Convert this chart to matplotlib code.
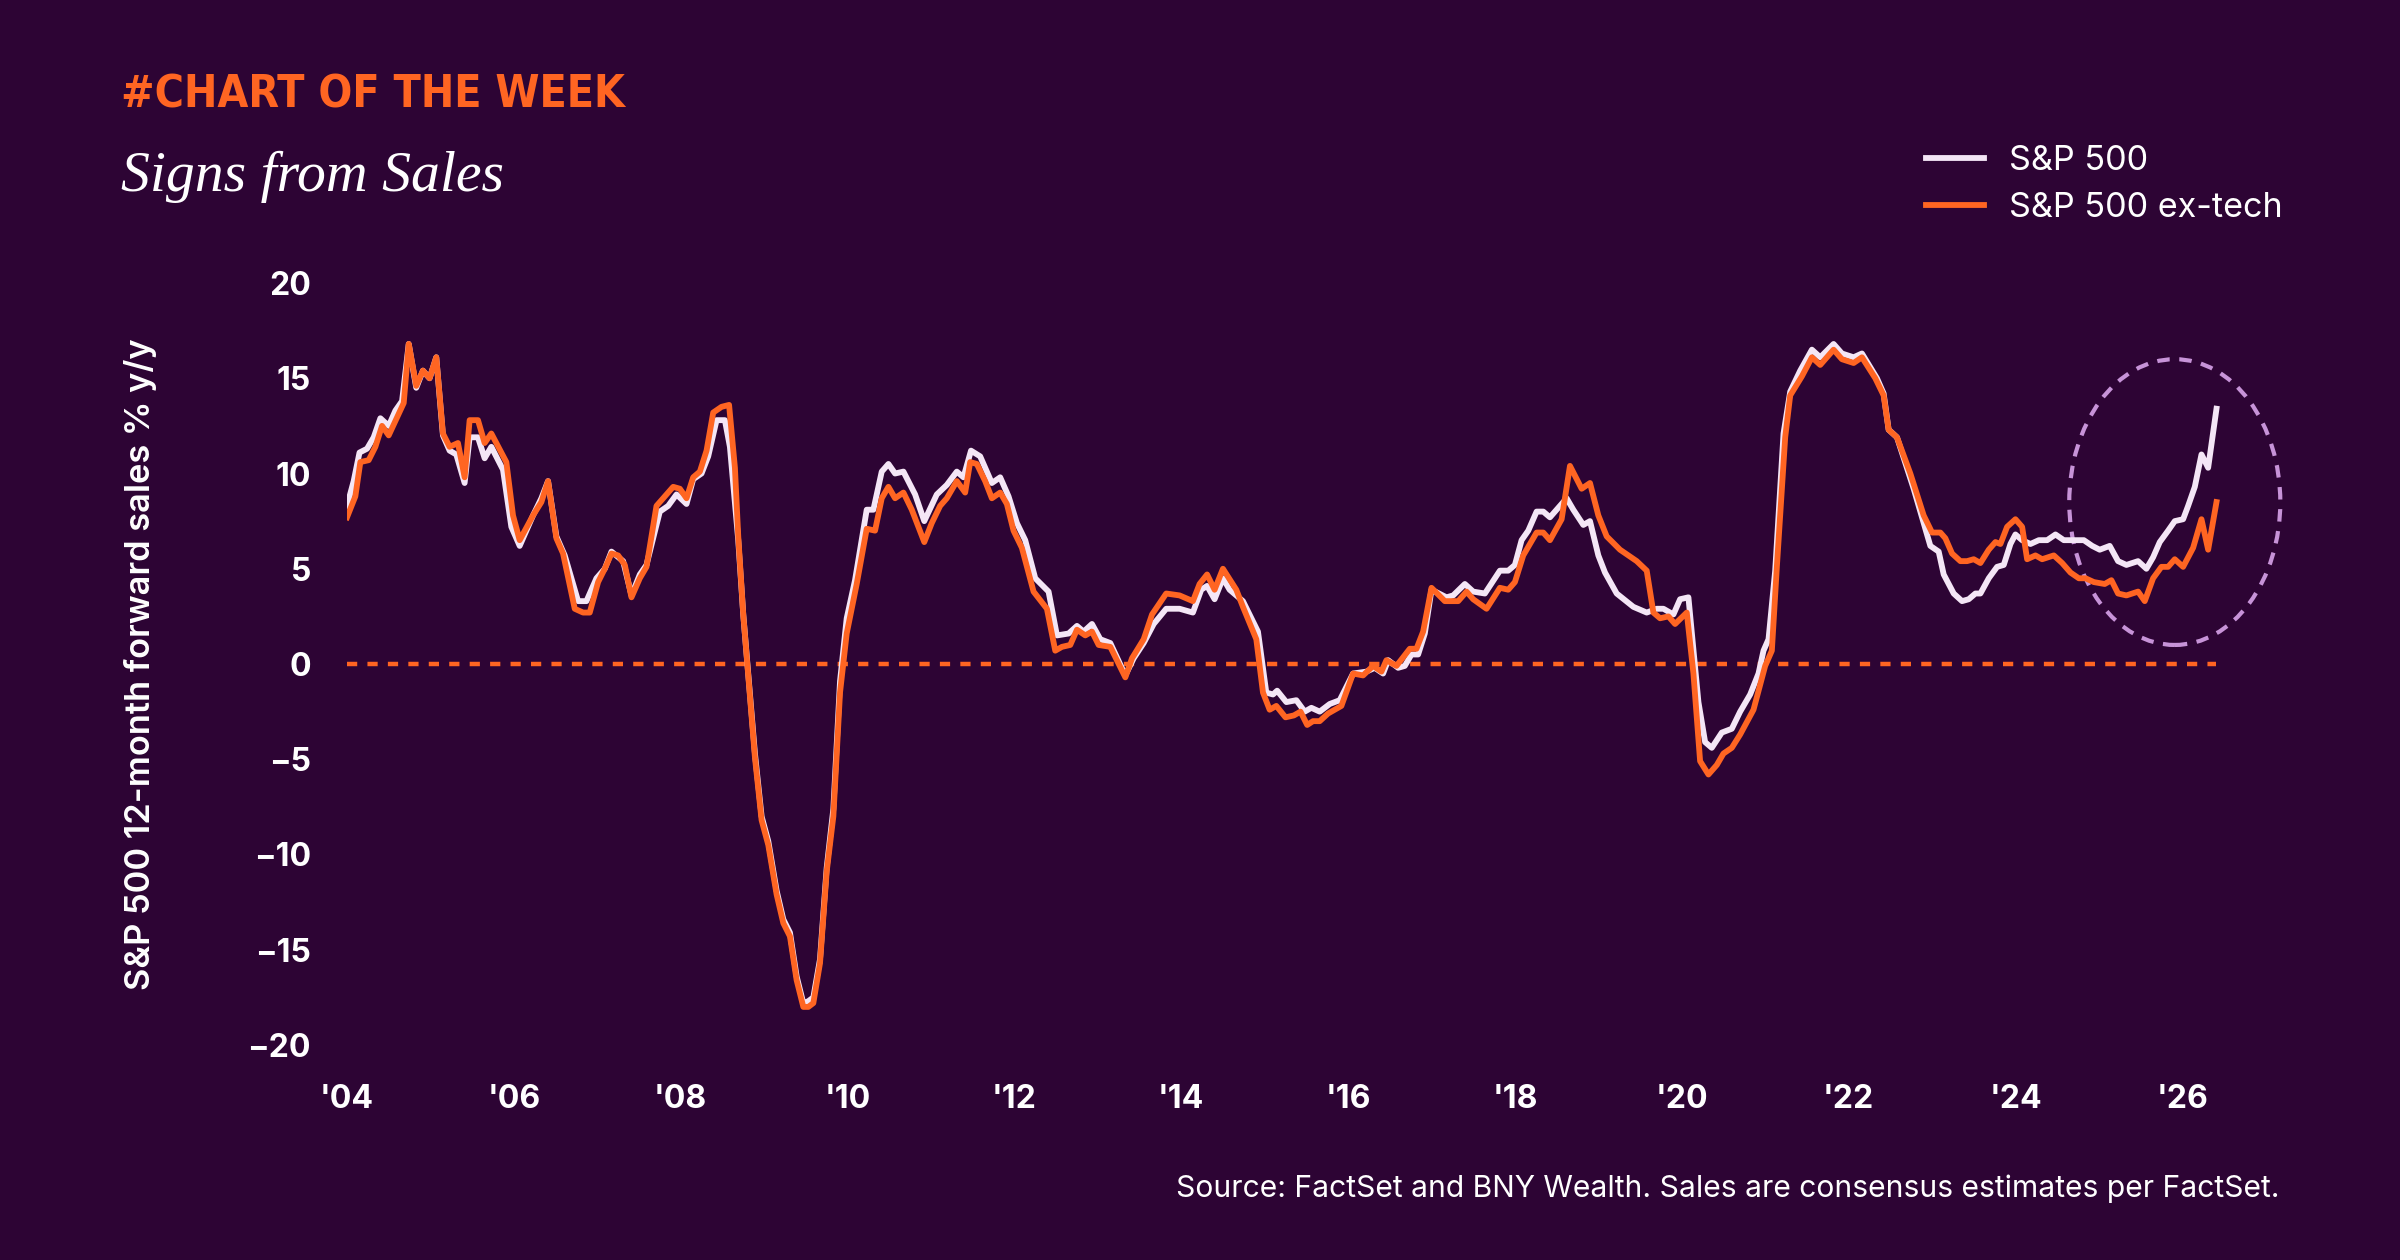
import numpy as np
import matplotlib
matplotlib.use('Agg')
import matplotlib.pyplot as plt
from matplotlib import font_manager
from matplotlib.font_manager import FontProperties
from matplotlib.patches import Ellipse

# S&P 500 12-month forward sales growth, % y/y
sp_years = [2004.00, 2004.08, 2004.15, 2004.24, 2004.32, 2004.40, 2004.50, 2004.58, 2004.66, 2004.74,
            2004.83, 2004.91, 2004.99, 2005.07, 2005.15, 2005.23, 2005.31, 2005.41, 2005.47, 2005.57,
            2005.65, 2005.73, 2005.87, 2005.97, 2006.07, 2006.23, 2006.33, 2006.41, 2006.51, 2006.61,
            2006.77, 2006.87, 2006.99, 2007.09, 2007.17, 2007.31, 2007.41, 2007.51, 2007.59, 2007.75,
            2007.85, 2007.95, 2008.07, 2008.15, 2008.25, 2008.33, 2008.43, 2008.53, 2008.59, 2008.69,
            2008.75, 2008.89, 2008.97, 2009.05, 2009.15, 2009.23, 2009.31, 2009.39, 2009.47, 2009.53,
            2009.59, 2009.67, 2009.75, 2009.83, 2009.91, 2009.99, 2010.09, 2010.23, 2010.31, 2010.41,
            2010.49, 2010.57, 2010.67, 2010.81, 2010.92, 2011.07, 2011.19, 2011.31, 2011.39, 2011.48,
            2011.59, 2011.73, 2011.83, 2011.93, 2012.03, 2012.13, 2012.25, 2012.41, 2012.51, 2012.65,
            2012.75, 2012.83, 2012.93, 2013.03, 2013.15, 2013.33, 2013.43, 2013.55, 2013.67, 2013.82,
            2013.98, 2014.14, 2014.24, 2014.31, 2014.40, 2014.50, 2014.58, 2014.74, 2014.92, 2015.02,
            2015.10, 2015.15, 2015.26, 2015.38, 2015.48, 2015.56, 2015.66, 2015.78, 2015.90, 2016.06,
            2016.22, 2016.32, 2016.42, 2016.48, 2016.60, 2016.68, 2016.76, 2016.84, 2016.92, 2017.00,
            2017.18, 2017.26, 2017.40, 2017.50, 2017.64, 2017.82, 2017.92, 2018.00, 2018.08, 2018.16,
            2018.26, 2018.34, 2018.42, 2018.50, 2018.62, 2018.70, 2018.82, 2018.90, 2019.00, 2019.08,
            2019.22, 2019.42, 2019.58, 2019.70, 2019.78, 2019.90, 2019.98, 2020.08, 2020.20, 2020.28,
            2020.36, 2020.48, 2020.60, 2020.70, 2020.82, 2020.92, 2020.98, 2021.04, 2021.12, 2021.22,
            2021.30, 2021.42, 2021.56, 2021.66, 2021.82, 2021.92, 2022.06, 2022.16, 2022.34, 2022.42,
            2022.48, 2022.58, 2022.78, 2022.98, 2023.08, 2023.14, 2023.26, 2023.36, 2023.44, 2023.52,
            2023.58, 2023.68, 2023.78, 2023.86, 2023.94, 2024.00, 2024.08, 2024.18, 2024.28, 2024.38,
            2024.48, 2024.58, 2024.68, 2024.82, 2024.92, 2025.01, 2025.13, 2025.23, 2025.33, 2025.47,
            2025.57, 2025.65, 2025.73, 2025.83, 2025.91, 2026.01, 2026.07, 2026.15, 2026.23, 2026.31,
            2026.41]
sp_vals = [8.3, 9.6, 11.1, 11.3, 11.9, 12.9, 12.5, 13.3, 13.8, 16.8,
           14.5, 15.4, 15.0, 16.1, 12.0, 11.2, 11.0, 9.5, 11.9, 11.9,
           10.8, 11.4, 10.2, 7.2, 6.2, 7.8, 8.7, 9.6, 6.7, 5.7,
           3.3, 3.3, 4.5, 5.0, 5.9, 5.4, 3.6, 4.7, 5.2, 8.0,
           8.3, 8.9, 8.4, 9.7, 10.0, 10.9, 12.8, 12.8, 11.4, 6.5,
           2.6, -4.7, -8.0, -9.3, -11.9, -13.4, -14.1, -16.4, -17.8, -17.7,
           -17.5, -15.5, -10.7, -7.6, -0.9, 2.4, 4.4, 8.1, 8.1, 10.1,
           10.5, 10.0, 10.1, 8.9, 7.5, 8.9, 9.4, 10.1, 9.8, 11.2,
           10.9, 9.5, 9.8, 8.8, 7.4, 6.5, 4.5, 3.8, 1.5, 1.6,
           2.0, 1.7, 2.1, 1.3, 1.1, -0.6, 0.3, 1.1, 2.1, 2.9,
           2.9, 2.7, 3.9, 4.1, 3.4, 4.5, 3.9, 3.3, 1.7, -1.5,
           -1.6, -1.4, -2.0, -1.9, -2.5, -2.3, -2.5, -2.1, -1.9, -0.5,
           -0.4, -0.2, -0.5, 0.2, -0.2, -0.1, 0.5, 0.5, 1.6, 3.9,
           3.5, 3.6, 4.2, 3.8, 3.7, 4.9, 4.9, 5.2, 6.5, 7.0,
           8.0, 8.0, 7.7, 8.1, 8.7, 8.1, 7.3, 7.5, 5.7, 4.8,
           3.7, 3.0, 2.7, 2.9, 2.9, 2.6, 3.4, 3.5, -2.0, -4.1,
           -4.4, -3.6, -3.4, -2.5, -1.6, -0.5, 0.7, 1.3, 4.9, 12.1,
           14.3, 15.4, 16.5, 16.1, 16.8, 16.3, 16.1, 16.3, 15.0, 14.2,
           12.3, 11.9, 9.2, 6.2, 5.9, 4.7, 3.7, 3.3, 3.4, 3.7,
           3.7, 4.5, 5.1, 5.2, 6.3, 6.8, 6.5, 6.3, 6.5, 6.5,
           6.8, 6.5, 6.5, 6.5, 6.2, 6.0, 6.2, 5.4, 5.2, 5.4,
           5.0, 5.6, 6.4, 7.0, 7.5, 7.6, 8.3, 9.3, 11.0, 10.3,
           13.4]

# S&P 500 ex-tech
ex_years = [2004.00, 2004.10, 2004.16, 2004.26, 2004.34, 2004.42, 2004.50, 2004.68, 2004.74, 2004.83,
            2004.91, 2004.99, 2005.07, 2005.15, 2005.23, 2005.33, 2005.41, 2005.47, 2005.57, 2005.65,
            2005.73, 2005.91, 2005.99, 2006.07, 2006.23, 2006.33, 2006.41, 2006.51, 2006.59, 2006.73,
            2006.83, 2006.91, 2007.01, 2007.09, 2007.17, 2007.25, 2007.33, 2007.41, 2007.51, 2007.59,
            2007.71, 2007.79, 2007.91, 2007.99, 2008.07, 2008.15, 2008.23, 2008.31, 2008.39, 2008.49,
            2008.58, 2008.65, 2008.69, 2008.75, 2008.89, 2008.97, 2009.05, 2009.15, 2009.23, 2009.31,
            2009.39, 2009.47, 2009.53, 2009.59, 2009.67, 2009.75, 2009.83, 2009.91, 2009.99, 2010.11,
            2010.23, 2010.33, 2010.41, 2010.49, 2010.57, 2010.67, 2010.77, 2010.85, 2010.92, 2011.01,
            2011.11, 2011.19, 2011.31, 2011.41, 2011.47, 2011.55, 2011.65, 2011.73, 2011.83, 2011.91,
            2011.99, 2012.09, 2012.23, 2012.39, 2012.49, 2012.57, 2012.67, 2012.75, 2012.85, 2012.93,
            2013.01, 2013.15, 2013.33, 2013.41, 2013.55, 2013.65, 2013.82, 2013.98, 2014.14, 2014.22,
            2014.31, 2014.40, 2014.50, 2014.66, 2014.74, 2014.90, 2014.98, 2015.06, 2015.14, 2015.25,
            2015.35, 2015.43, 2015.51, 2015.58, 2015.66, 2015.76, 2015.92, 2016.06, 2016.18, 2016.30,
            2016.40, 2016.46, 2016.58, 2016.74, 2016.82, 2016.90, 2017.00, 2017.16, 2017.32, 2017.42,
            2017.50, 2017.66, 2017.82, 2017.92, 2018.00, 2018.10, 2018.26, 2018.34, 2018.42, 2018.56,
            2018.66, 2018.80, 2018.90, 2019.00, 2019.10, 2019.26, 2019.46, 2019.58, 2019.66, 2019.74,
            2019.84, 2019.92, 2020.06, 2020.14, 2020.22, 2020.32, 2020.42, 2020.50, 2020.60, 2020.70,
            2020.86, 2021.00, 2021.08, 2021.14, 2021.24, 2021.30, 2021.44, 2021.56, 2021.66, 2021.82,
            2021.92, 2022.06, 2022.16, 2022.32, 2022.42, 2022.48, 2022.58, 2022.74, 2022.90, 2023.00,
            2023.10, 2023.16, 2023.24, 2023.34, 2023.42, 2023.50, 2023.58, 2023.68, 2023.76, 2023.82,
            2023.90, 2024.00, 2024.08, 2024.14, 2024.24, 2024.32, 2024.46, 2024.56, 2024.66, 2024.76,
            2024.84, 2024.94, 2025.07, 2025.15, 2025.23, 2025.33, 2025.47, 2025.55, 2025.65, 2025.75,
            2025.83, 2025.91, 2026.01, 2026.13, 2026.23, 2026.31, 2026.41]
ex_vals = [7.7, 8.8, 10.6, 10.7, 11.4, 12.5, 12.0, 13.7, 16.8, 14.6,
           15.4, 15.0, 16.1, 12.1, 11.4, 11.6, 9.8, 12.8, 12.8, 11.6,
           12.1, 10.6, 7.8, 6.5, 7.8, 8.5, 9.6, 6.6, 5.8, 2.9,
           2.7, 2.7, 4.3, 5.0, 5.8, 5.7, 5.2, 3.5, 4.5, 5.1,
           8.3, 8.7, 9.3, 9.2, 8.7, 9.8, 10.1, 11.2, 13.2, 13.5,
           13.6, 10.3, 6.7, 2.6, -4.9, -8.2, -9.5, -12.1, -13.6, -14.3,
           -16.6, -18.0, -18.0, -17.8, -15.7, -10.9, -8.0, -1.5, 1.6, 4.2,
           7.1, 7.0, 8.7, 9.3, 8.7, 9.0, 8.1, 7.2, 6.4, 7.4,
           8.3, 8.7, 9.6, 9.0, 10.6, 10.5, 9.6, 8.7, 9.0, 8.4,
           7.0, 6.1, 3.8, 2.9, 0.7, 0.9, 1.0, 1.8, 1.5, 1.7,
           1.0, 0.9, -0.7, 0.3, 1.3, 2.6, 3.7, 3.6, 3.3, 4.2,
           4.7, 3.9, 5.0, 3.9, 3.0, 1.3, -1.5, -2.4, -2.2, -2.8,
           -2.7, -2.5, -3.2, -3.0, -3.0, -2.6, -2.2, -0.5, -0.6, -0.1,
           -0.4, 0.2, -0.1, 0.8, 0.8, 1.7, 4.0, 3.3, 3.3, 3.8,
           3.4, 2.9, 4.0, 3.9, 4.3, 5.7, 6.9, 6.9, 6.5, 7.6,
           10.4, 9.2, 9.5, 7.8, 6.7, 6.0, 5.4, 4.9, 2.7, 2.4,
           2.5, 2.1, 2.7, -0.5, -5.1, -5.8, -5.3, -4.7, -4.4, -3.7,
           -2.4, -0.1, 0.7, 5.1, 11.9, 14.1, 15.1, 16.1, 15.7, 16.5,
           16.0, 15.8, 16.1, 15.0, 14.1, 12.3, 11.9, 10.0, 7.8, 6.9,
           6.9, 6.6, 5.8, 5.4, 5.4, 5.5, 5.3, 6.0, 6.4, 6.3,
           7.2, 7.6, 7.2, 5.5, 5.7, 5.5, 5.7, 5.3, 4.8, 4.5,
           4.5, 4.3, 4.2, 4.4, 3.7, 3.6, 3.8, 3.3, 4.5, 5.1,
           5.1, 5.5, 5.1, 6.1, 7.6, 6.0, 8.5]

year_ticks = list(range(2004, 2027, 2))
year_labels = ["'" + str(y)[2:] for y in year_ticks]
value_ticks = [-20, -15, -10, -5, 0, 5, 10, 15, 20]

BG = '#2d0434'
ORANGE = '#ff6522'
WHITE = '#f4e6f6'
LILAC = '#c793d8'

names = {f.name for f in font_manager.fontManager.ttflist}
sans = 'Inter' if 'Inter' in names else 'DejaVu Sans'
plt.rcParams['font.family'] = [sans, 'DejaVu Sans']

# look for a condensed / narrow bold face for the kicker line
narrow_file = None
for key in ['Condensed-Bold', 'CondensedBold', 'Narrow-Bold', 'NarrowBold', 'Condensed', 'Narrow']:
    hits = [f.fname for f in font_manager.fontManager.ttflist if key in f.fname.replace(' ', '')]
    if hits:
        narrow_file = sorted(hits)[0]
        break
if narrow_file:
    kicker_font = FontProperties(fname=narrow_file, size=16, weight='bold')
else:
    kicker_font = FontProperties(family=sans, size=14, weight='bold')

fig = plt.figure(figsize=(12, 6.3), dpi=200, facecolor=BG)
ax = fig.add_axes([347/2400, 1 - 1045/1260, (2224 - 347)/2400, 762/1260])
ax.set_facecolor(BG)

ax.plot(sp_years, sp_vals, color=WHITE, lw=2.1, label='S&P 500', solid_joinstyle='round')
ax.plot(ex_years, ex_vals, color=ORANGE, lw=2.1, label='S&P 500 ex-tech', solid_joinstyle='round')
ax.plot([2004, 2026.41], [0, 0], color=ORANGE, lw=1.6, dashes=(2.3, 2.3), zorder=1)

# highlight around the latest readings
ax.add_patch(Ellipse((2025.91, 8.5), 2.53, 15.0, fill=False, edgecolor=LILAC,
                     lw=1.5, linestyle=(0, (3.0, 2.3)), clip_on=False))

ax.set_xlim(2004, 2026.5)
ax.set_ylim(-20, 20)
ax.set_xticks(year_ticks)
ax.set_xticklabels(year_labels)
ax.set_yticks(value_ticks)
for s in ax.spines.values():
    s.set_visible(False)
ax.tick_params(length=0, colors='white', labelsize=11.5)
ax.tick_params(axis='y', pad=13)
ax.tick_params(axis='x', pad=14)
for lab in ax.get_xticklabels() + ax.get_yticklabels():
    lab.set_fontweight('bold')

fig.text(141/2400, 1 - 664/1260, 'S&P 500 12-month forward sales % y/y', rotation=90,
         ha='center', va='center', color='white', fontsize=12.4, fontweight='semibold')

fig.text(121/2400, 1 - 107/1260, '#CHART OF THE WEEK', color=ORANGE,
         fontproperties=kicker_font, ha='left', va='baseline')
fig.text(121/2400, 1 - 191/1260, 'Signs from Sales', color='white', fontsize=20.8,
         family='Liberation Serif', style='italic', ha='left', va='baseline')

fig.legend(loc='upper left', bbox_to_anchor=(1895/2400, 1 - 114/1260), frameon=False,
           fontsize=12.3, labelcolor='white', handlelength=1.7, handletextpad=0.75,
           labelspacing=0.45)

fig.text(2279/2400, 1 - 1197/1260,
         'Source: FactSet and BNY Wealth. Sales are consensus estimates per FactSet.',
         color='white', fontsize=10.8, ha='right', va='baseline')

fig.savefig('out.png', dpi=200, facecolor=BG)
